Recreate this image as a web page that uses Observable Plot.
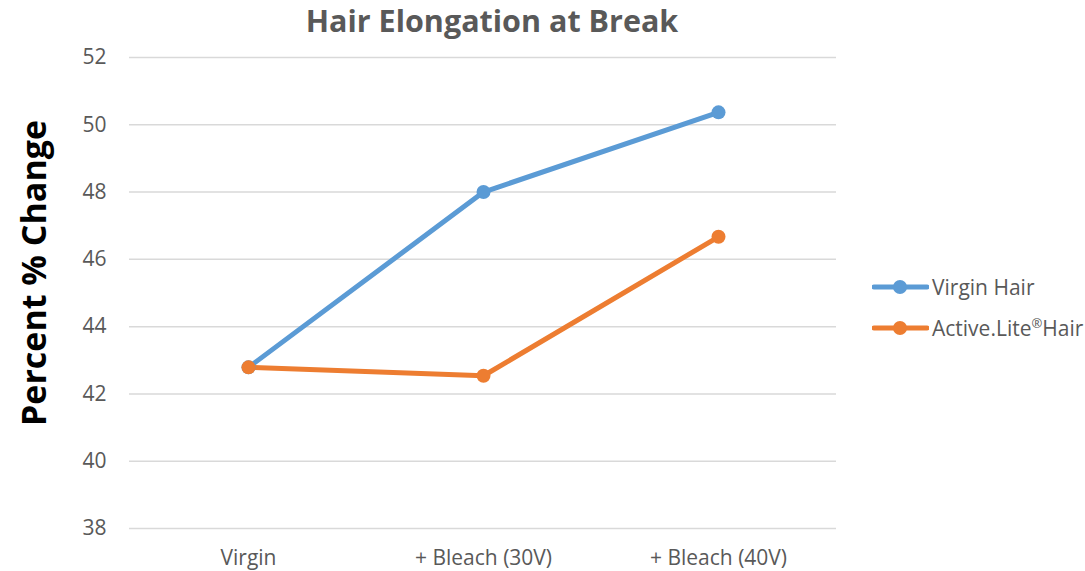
<!DOCTYPE html>
<html>
<head>
<meta charset="utf-8">
<script src="https://cdn.jsdelivr.net/npm/d3@7"></script>
<script src="https://cdn.jsdelivr.net/npm/@observablehq/plot@0.6"></script>
<style>
  html, body { margin: 0; padding: 0; background: #fff; }
  #wrap { position: relative; width: 1085px; height: 571px; font-family: "Open Sans", sans-serif; overflow: hidden; }
  #legend { position: absolute; left: 872px; top: 266px; font-size: 21px; color: #595959; }
  .item { display: flex; align-items: center; height: 41px; white-space: nowrap; }
  .item svg { margin-right: 3px; }
  .reg { font-size: 0.62em; position: relative; top: -0.55em; }
</style>
</head>
<body>
<div id="wrap"></div>
<script>
const title = "Hair Elongation at Break";
const yLabel = "Percent % Change";
const categories = ["Virgin", "+ Bleach (30V)", "+ Bleach (40V)"];
const seriesNames = ["Virgin Hair", "Active.Lite®Hair"];
const virginHair = [42.79, 48.0, 50.37];
const activeLiteHair = [42.79, 42.54, 46.67];
const yTicks = [38, 40, 42, 44, 46, 48, 50, 52];
const colors = ["#5b9bd5", "#ed7d31"];

const data = [];
[virginHair, activeLiteHair].forEach((vals, s) => {
  vals.forEach((v, i) => data.push({category: categories[i], value: v, series: seriesNames[s]}));
});

const chart = Plot.plot({
  width: 1085,
  height: 571,
  marginTop: 57,
  marginBottom: 43,
  marginLeft: 129,
  marginRight: 249,
  style: {fontFamily: "'Open Sans', sans-serif", fontSize: "21px", color: "#595959", background: "#fff"},
  x: {type: "point", domain: categories, padding: 0.5, label: null},
  y: {domain: [38, 52], label: null},
  color: {domain: seriesNames, range: colors},
  marks: [
    Plot.gridY(yTicks, {stroke: "#d9d9d9", strokeOpacity: 1, strokeWidth: 1.5}),
    Plot.axisY(yTicks, {tickSize: 0, tickPadding: 23, fill: "#595959", fontSize: 21, label: null}),
    Plot.axisX({tickSize: 0, tickPadding: 22, fill: "#595959", fontSize: 21, label: null}),
    Plot.line(data, {x: "category", y: "value", z: "series", stroke: "series", strokeWidth: 5, strokeLinecap: "round", strokeLinejoin: "round"}),
    Plot.dot(data, {x: "category", y: "value", fill: "series", r: 7, stroke: "none"}),
    Plot.text([title], {frameAnchor: "top", dy: -35, dx: 9, fontSize: 30.5, fontWeight: "bold", fill: "#595959", lineAnchor: "middle"}),
    Plot.text([yLabel], {frameAnchor: "left", textAnchor: "middle", rotate: -90, dx: -94, dy: -20, fontSize: 34, fontWeight: "bold", fill: "#000", lineAnchor: "middle"})
  ]
});

const wrap = document.getElementById("wrap");
wrap.appendChild(chart);

const legend = document.createElement("div");
legend.id = "legend";
seriesNames.forEach((name, i) => {
  const item = document.createElement("div");
  item.className = "item";
  const label = name.replace("®", '<span class="reg">®</span>');
  item.innerHTML = `<svg width="57" height="16"><line x1="2" y1="8" x2="55" y2="8" stroke="${colors[i]}" stroke-width="5" stroke-linecap="round"/><circle cx="28" cy="8" r="7" fill="${colors[i]}"/></svg><span>${label}</span>`;
  legend.appendChild(item);
});
wrap.appendChild(legend);
</script>
</body>
</html>
